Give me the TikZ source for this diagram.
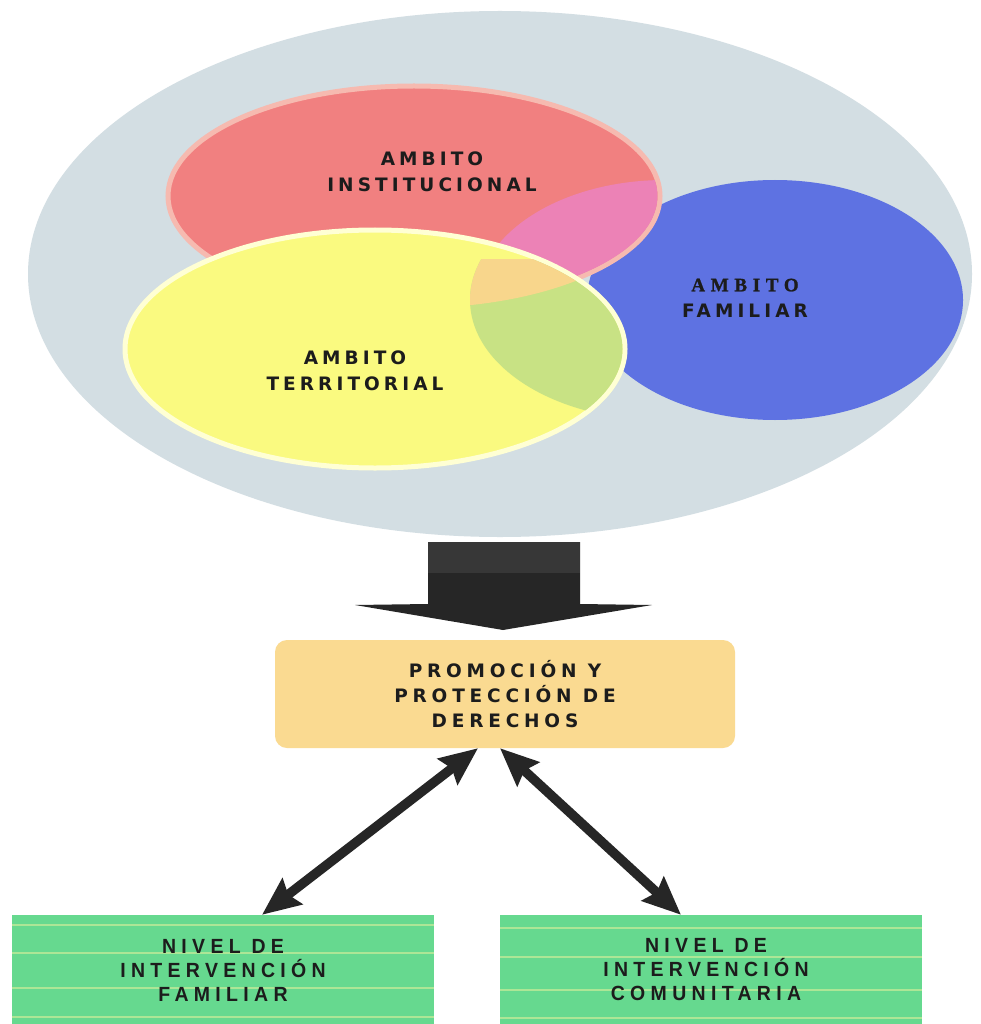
\documentclass[tikz,border=0pt]{standalone}
\usepackage{fontspec}
\setmainfont{Liberation Sans}
\newfontfamily\lbl{DejaVu Sans}[LetterSpace=22]
\newfontfamily\lblp{DejaVu Sans}[LetterSpace=26]
\newfontfamily\lblg{Liberation Sans}[LetterSpace=26, FakeStretch=0.95]
\newfontfamily\lblser{Liberation Serif}[LetterSpace=30, FakeBold=1.2]
\usetikzlibrary{arrows.meta}
\definecolor{bgin}{RGB}{211,222,227}
\definecolor{bgout}{RGB}{232,238,241}
\definecolor{redf}{RGB}{241,128,128}
\definecolor{redh}{RGB}{246,186,176}
\definecolor{bluef}{RGB}{94,114,226}
\definecolor{yelf}{RGB}{250,250,128}
\definecolor{yelh}{RGB}{255,255,212}
\definecolor{pinkf}{RGB}{236,130,182}
\definecolor{orgf}{RGB}{248,214,140}
\definecolor{grnov}{RGB}{200,226,132}
\definecolor{boxf}{RGB}{250,218,145}
\definecolor{grnbox}{RGB}{102,217,143}
\definecolor{grnline}{RGB}{172,230,150}
\definecolor{ink}{RGB}{28,28,28}
\definecolor{arr}{RGB}{38,38,38}
\definecolor{arrtop}{RGB}{55,55,55}
\pgfdeclareradialshading{bigshade}{\pgfpoint{0bp}{0bp}}{color(0bp)=(bgin); color(36bp)=(bgin); color(50bp)=(bgout)}
\begin{document}
\begin{tikzpicture}[x=1pt,y=-1pt,
  lab/.style={font=\lbl\bfseries\fontsize{18.5}{26}\selectfont, text=ink, align=center, inner sep=0pt},
  labp/.style={font=\lblp\bfseries\fontsize{18.5}{25}\selectfont, text=ink, align=center, inner sep=0pt},
  labg/.style={font=\lblg\bfseries\fontsize{20.5}{24}\selectfont, text=ink, align=center, inner sep=0pt},
  greenbox/.style={fill=grnbox, minimum width=422pt, minimum height=110pt, inner sep=0pt},
  stripe/.style={draw=grnline, line width=1.6pt},
  dbl/.style={{Stealth[length=38pt,width=32pt,inset=5pt]}-{Stealth[length=38pt,width=32pt,inset=5pt]}, line width=9.5pt, draw=arr}]
\useasboundingbox (0,0) rectangle (980,1024);
\fill[white] (0,0) rectangle (980,1024);
% big background ellipse
\shade[shading=bigshade] (500,274) ellipse [x radius=472, y radius=263];
% blue
\fill[bluef] (775,300) ellipse [x radius=188, y radius=120];
% red
\filldraw[fill=redf, draw=redh, line width=5pt] (414,196) ellipse [x radius=246, y radius=110];
\begin{scope}
  \clip (414,196) ellipse [x radius=243.5, y radius=107.5];
  \clip (665,300) ellipse [x radius=188, y radius=120];
  \fill[pinkf] (0,0) rectangle (980,600);
\end{scope}
% yellow
\filldraw[fill=yelf, draw=yelh, line width=5pt] (375,349) ellipse [x radius=250, y radius=119];
\begin{scope}
  \clip (375,349) ellipse [x radius=247.5, y radius=116.5];
  \clip (660,300) ellipse [x radius=190, y radius=120];
  \clip (0,259) rectangle (980,600);
  \fill[grnov] (0,0) rectangle (980,600);
  \clip (414,198) ellipse [x radius=246, y radius=110];
  \fill[orgf] (0,0) rectangle (980,600);
\end{scope}
% labels in ellipses
\node[lab] (tinst) at (432,172) {AMBITO\\INSTITUCIONAL};
\node[lab] (tfam) at (745,298) {{\lblser\bfseries\fontsize{19}{26}\selectfont AMBITO}\\FAMILIAR};
\node[lab] (tterr) at (355,371) {AMBITO\\TERRITORIAL};
% block arrow
\fill[arr] (428,542) -- (580,542) -- (580,604) -- (652,605) -- (503,630) -- (355,605) -- (428,604) -- cycle;
\fill[arrtop] (428,542) rectangle (580,573);
% central box
\node[labp, fill=boxf, rounded corners=12pt, minimum width=460pt, minimum height=108pt] (prom) at (505,694) {PROMOCIÓN Y\\PROTECCIÓN DE\\DERECHOS};
% green boxes
\node[greenbox] (fam) at (223,970) {};
\node[greenbox] (com) at (711,970) {};
\foreach \yy in {925,953,988,1017} {\draw[stripe] (12,\yy) -- (434,\yy);}
\foreach \yy in {928,957,990,1018} {\draw[stripe] (500,\yy) -- (922,\yy);}
\node[labg] (tfamb) at (fam) {NIVEL DE\\INTERVENCIÓN\\FAMILIAR};
\node[labg] (tcom) at ([xshift=-5pt]com.center) {NIVEL DE\\INTERVENCIÓN\\COMUNITARIA};
% double arrows
\draw[dbl] ([xshift=-27pt]prom.south) -- ([xshift=39pt]fam.north);
\draw[dbl] ([xshift=-5pt]prom.south) -- ([xshift=-30pt]com.north);
\end{tikzpicture}
\end{document}
